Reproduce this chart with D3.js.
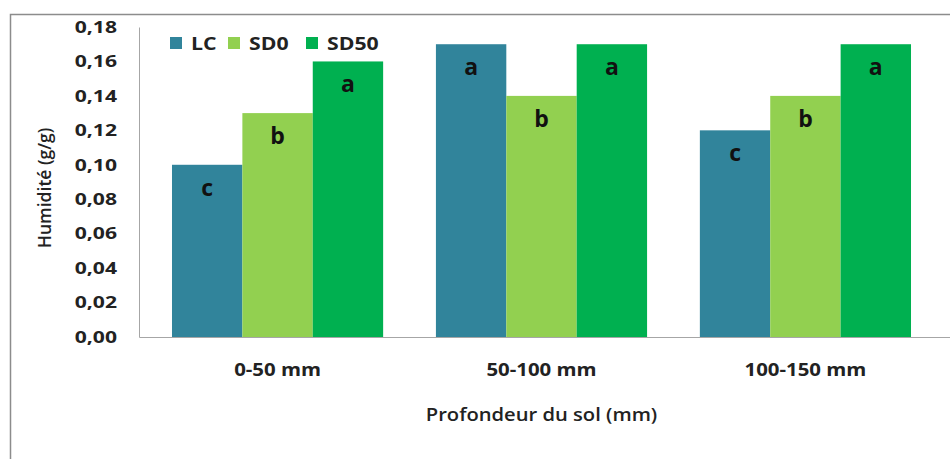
<!DOCTYPE html>
<html>
<head>
<meta charset="utf-8">
<script src="https://cdn.jsdelivr.net/npm/d3@7"></script>
<style>
    body { margin: 0; background: #fff; }
    svg text { font-family: "Open Sans", "Noto Sans", sans-serif; }
</style>
</head>
<body>
<div id="chart"></div>
<script>
(function() {
    // data
    var depths = ["0-50 mm", "50-100 mm", "100-150 mm"];
    var treatments = ["LC", "SD0", "SD50"];
    var lcValues = [0.10, 0.17, 0.12];
    var sd0Values = [0.13, 0.14, 0.14];
    var sd50Values = [0.16, 0.17, 0.17];
    var lcLetters = ["c", "a", "c"];
    var sd0Letters = ["b", "b", "b"];
    var sd50Letters = ["a", "a", "a"];
    var yTicks = [0, 0.02, 0.04, 0.06, 0.08, 0.10, 0.12, 0.14, 0.16, 0.18];

    var colors = {LC: "#31849b", SD0: "#92d050", SD50: "#00b050"};

    var W = 950, H = 459;
    var margin = {left: 139, top: 27, right: 6, bottom: 122};
    var width = W - margin.left - margin.right,
        height = H - margin.top - margin.bottom;

    // the original picture is a bit stretched sideways, so the text is too
    var SX = 1.28;

    var series = [
        {key: "LC", values: lcValues, letters: lcLetters},
        {key: "SD0", values: sd0Values, letters: sd0Letters},
        {key: "SD50", values: sd50Values, letters: sd50Letters}
    ];

    var data = depths.map(function(d, i) {
        return {
            depth: d,
            bars: series.map(function(s) {
                return {key: s.key, value: s.values[i], letter: s.letters[i]};
            })
        };
    });

    var x0 = d3.scaleBand()
        .domain(depths)
        .range([0, width])
        .paddingInner(0.2)
        .paddingOuter(0.125);

    var x1 = d3.scaleBand()
        .domain(treatments)
        .range([0, x0.bandwidth()]);

    var yScale = d3.scaleLinear()
        .domain([0, 0.18])
        .range([height, 0]);

    var svg = d3.select("#chart").append("svg")
        .attr("width", W)
        .attr("height", H);

    // outer frame (top and left edges visible)
    svg.append("path")
        .attr("d", "M10.5," + H + "V14.5H" + W)
        .attr("fill", "none")
        .attr("stroke", "#8c8c8c")
        .attr("stroke-width", 1.5);

    var g = svg.append("g")
        .attr("transform", "translate(" + margin.left + "," + margin.top + ")");

    // y axis
    var yAxis = g.append("g")
        .call(d3.axisLeft(yScale)
            .tickValues(yTicks)
            .tickSize(0)
            .tickPadding(22)
            .tickFormat(function(d) { return d3.format(".2f")(d).replace(".", ","); }));
    yAxis.select(".domain").attr("stroke", "#a6a6a6").attr("stroke-width", 1);
    yAxis.selectAll("text")
        .attr("x", -22 / SX)
        .attr("transform", "scale(" + SX + ",1)")
        .attr("font-size", 16.5)
        .attr("font-weight", 700)
        .attr("fill", "#222")
        .style("font-family", "'Open Sans', sans-serif");

    var layer = g.selectAll(".group")
        .data(data)
        .enter().append("g")
        .attr("class", "group")
        .attr("transform", function(d) { return "translate(" + x0(d.depth) + ",0)"; });

    layer.selectAll("rect")
        .data(function(d) { return d.bars; })
        .enter().append("rect")
        .attr("x", function(d) { return x1(d.key); })
        .attr("y", function(d) { return yScale(d.value); })
        .attr("width", x1.bandwidth())
        .attr("height", function(d) { return height - yScale(d.value); })
        .attr("fill", function(d) { return colors[d.key]; });

    layer.selectAll(".letter")
        .data(function(d) { return d.bars; })
        .enter().append("text")
        .attr("class", "letter")
        .attr("x", function(d) { return x1(d.key) + x1.bandwidth() / 2; })
        .attr("y", function(d) { return yScale(d.value) + 31; })
        .attr("text-anchor", "middle")
        .attr("font-size", 23)
        .attr("font-weight", 700)
        .attr("fill", "#111")
        .text(function(d) { return d.letter; });

    // x axis baseline
    var xAxis = g.append("g")
        .attr("transform", "translate(0," + height + ")")
        .call(d3.axisBottom(x0).tickSize(0).tickPadding(27));
    xAxis.select(".domain").attr("stroke", "#a6a6a6").attr("stroke-width", 1)
        .attr("d", "M0.5,0.5H" + (W - margin.left));
    xAxis.selectAll("text")
        .attr("transform", "scale(1.2,1)")
        .attr("font-size", 17)
        .attr("font-weight", 700)
        .attr("fill", "#222")
        .style("font-family", "'Open Sans', sans-serif");

    // axis titles
    g.append("text")
        .attr("transform", "translate(" + (x0(depths[1]) + x0.bandwidth() / 2) + "," + (height + 84) + ") scale(1.12,1)")
        .attr("text-anchor", "middle")
        .attr("font-size", 18)
        .attr("font-weight", 600)
        .attr("fill", "#222")
        .text("Profondeur du sol (mm)");

    svg.append("text")
        .attr("transform", "translate(51,188) rotate(-90)")
        .attr("text-anchor", "middle")
        .attr("font-size", 17.5)
        .attr("font-weight", 600)
        .attr("fill", "#222")
        .text("Humidité (g/g)");

    // legend
    var legend = svg.append("g")
        .attr("transform", "translate(170,37)");
    var legendX = [0, 58, 136];
    var item = legend.selectAll(".item")
        .data(treatments)
        .enter().append("g")
        .attr("class", "item")
        .attr("transform", function(d, i) { return "translate(" + legendX[i] + ",0)"; });
    item.append("rect")
        .attr("width", 12)
        .attr("height", 12)
        .attr("fill", function(d) { return colors[d]; });
    item.append("text")
        .attr("transform", "translate(21,13) scale(1.25,1)")
        .attr("font-size", 17)
        .attr("font-weight", 700)
        .attr("fill", "#222")
        .text(function(d) { return d; });
})();
</script>
</body>
</html>
